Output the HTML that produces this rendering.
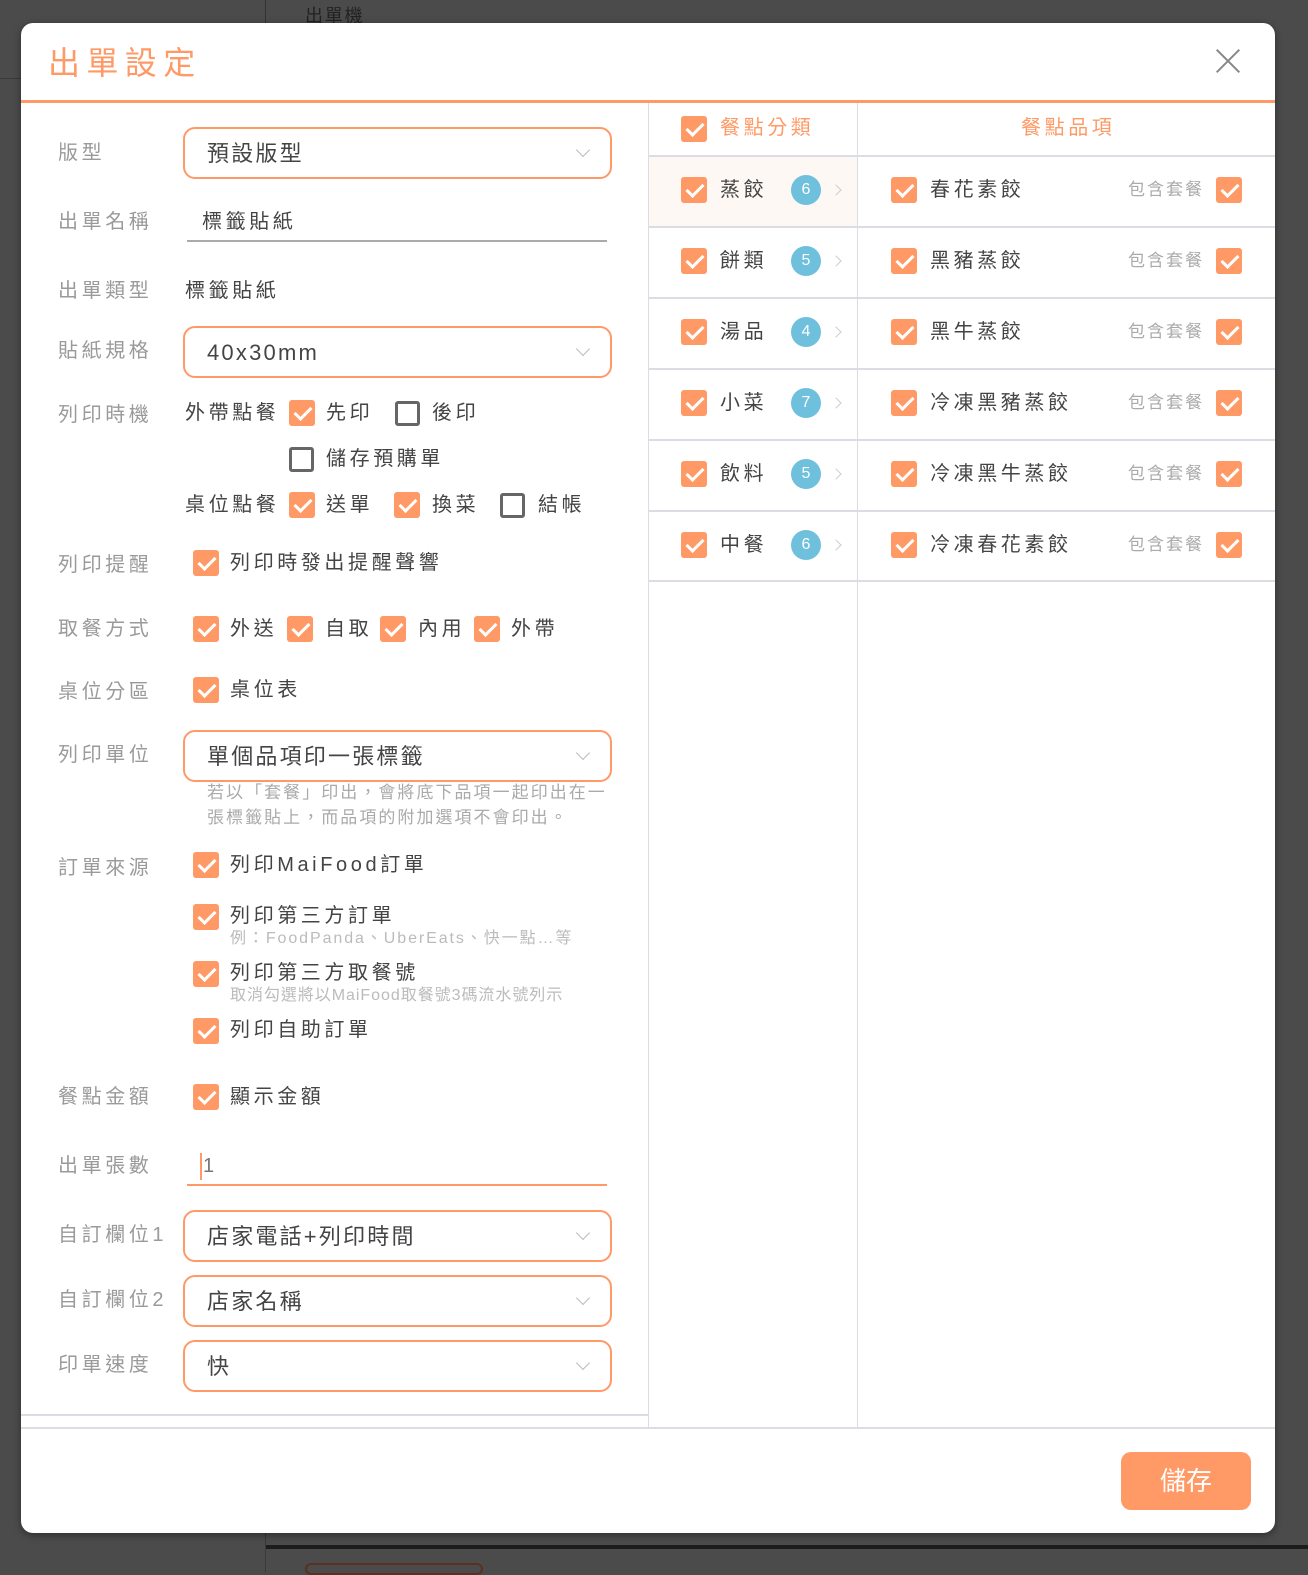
<!DOCTYPE html>
<html><head><meta charset="utf-8">
<style>
*{margin:0;padding:0;box-sizing:border-box}
body{width:1308px;height:1572px;background:#4b4b4b;position:relative;overflow:hidden;font-family:"Liberation Sans","Noto Sans CJK TC",sans-serif}
.a{position:absolute}
.m{position:absolute;left:21px;top:23px;width:1254px;height:1510px;background:#fff;border-radius:12px;box-shadow:0 2px 8px rgba(0,0,0,.4)}
.t{position:absolute;line-height:28px;height:28px;white-space:nowrap;letter-spacing:.18em}
.lb{font-size:20px;color:#9a9a9a}
.v{font-size:20px;color:#444}
.cb{position:absolute;width:26px;height:26px;background:#ff9966;border-radius:3px}
.cb::after{content:"";position:absolute;left:9px;top:3px;width:7px;height:14px;border:solid #fff;border-width:0 3px 3px 0;transform:rotate(45deg)}
.ub{position:absolute;width:25px;height:25px;border:3px solid #666;border-radius:3px}
.dd{position:absolute;left:162px;width:429px;height:52px;border:2px solid #ff9966;border-radius:12px}
.dd span{position:absolute;left:22px;top:11px;font-size:22px;color:#444;letter-spacing:.1em;line-height:28px;white-space:nowrap}
.dd i{position:absolute;right:22px;top:16px;width:10px;height:10px;border:solid #bbb;border-width:0 1.5px 1.5px 0;transform:rotate(45deg)}
.hr{position:absolute;height:1px;background:#dcdce4}
.bd{position:absolute;width:30px;height:30px;border-radius:50%;background:#6fc0dc;color:#fff;font-size:16px;text-align:center;line-height:30px}
.ch{position:absolute;width:8px;height:8px;border:solid #ccc;border-width:1.5px 1.5px 0 0;transform:rotate(45deg)}
.sm{font-size:17px;color:#aaa;letter-spacing:.12em}
</style></head><body>
<div class="a" style="left:265px;top:0;width:1px;height:23px;background:#333"></div>
<div class="t" style="left:305px;top:2px;font-size:18px;color:#222;letter-spacing:.1em">出單機</div>
<div class="a" style="left:0;top:78px;width:21px;height:1px;background:#3a3a3a"></div>
<div class="a" style="left:265px;top:1545px;width:1043px;height:4px;background:#1c1c1c"></div>
<div class="a" style="left:265px;top:1533px;width:1px;height:39px;background:#3a3a3a"></div>
<div class="a" style="left:305px;top:1563px;width:178px;height:12px;border:2px solid #5a3020;border-radius:8px"></div>

<div class="m">
<div class="t" style="left:27px;top:22px;font-size:32px;line-height:36px;height:36px;color:#ff9966;letter-spacing:.2em">出單設定</div>
<div class="a" style="left:1196px;top:26px;width:22px;height:24px">
<div class="a" style="left:10px;top:-4px;width:2px;height:32px;background:#888;transform:rotate(45deg)"></div>
<div class="a" style="left:10px;top:-4px;width:2px;height:32px;background:#888;transform:rotate(-45deg)"></div></div>
<div class="a" style="left:0;top:77px;width:1254px;height:3px;background:#ff9966"></div>

<!-- left -->
<div class="t lb" style="left:37px;top:116px">版型</div>
<div class="dd" style="top:104px"><span>預設版型</span><i></i></div>
<div class="t lb" style="left:37px;top:185px">出單名稱</div>
<div class="t v" style="left:181px;top:185px">標籤貼紙</div>
<div class="a" style="left:166px;top:217px;width:420px;height:2px;background:#aaa"></div>
<div class="t lb" style="left:37px;top:254px">出單類型</div>
<div class="t v" style="left:164px;top:254px">標籤貼紙</div>
<div class="t lb" style="left:37px;top:314px">貼紙規格</div>
<div class="dd" style="top:303px"><span>40x30mm</span><i></i></div>

<div class="t lb" style="left:37px;top:378px">列印時機</div>
<div class="t v" style="left:164px;top:376px">外帶點餐</div>
<div class="cb" style="left:268px;top:377px"></div>
<div class="t v" style="left:305px;top:376px">先印</div>
<div class="ub" style="left:374px;top:378px"></div>
<div class="t v" style="left:411px;top:376px">後印</div>
<div class="ub" style="left:268px;top:424px"></div>
<div class="t v" style="left:305px;top:422px">儲存預購單</div>
<div class="t v" style="left:164px;top:468px">桌位點餐</div>
<div class="cb" style="left:268px;top:469px"></div>
<div class="t v" style="left:305px;top:468px">送單</div>
<div class="cb" style="left:373px;top:469px"></div>
<div class="t v" style="left:411px;top:468px">換菜</div>
<div class="ub" style="left:479px;top:470px"></div>
<div class="t v" style="left:517px;top:468px">結帳</div>

<div class="t lb" style="left:37px;top:528px">列印提醒</div>
<div class="cb" style="left:172px;top:527px"></div>
<div class="t v" style="left:209px;top:526px">列印時發出提醒聲響</div>

<div class="t lb" style="left:37px;top:592px">取餐方式</div>
<div class="cb" style="left:172px;top:593px"></div><div class="t v" style="left:209px;top:592px">外送</div>
<div class="cb" style="left:266px;top:593px"></div><div class="t v" style="left:304px;top:592px">自取</div>
<div class="cb" style="left:359px;top:593px"></div><div class="t v" style="left:397px;top:592px">內用</div>
<div class="cb" style="left:453px;top:593px"></div><div class="t v" style="left:490px;top:592px">外帶</div>

<div class="t lb" style="left:37px;top:655px">桌位分區</div>
<div class="cb" style="left:172px;top:654px"></div><div class="t v" style="left:209px;top:653px">桌位表</div>

<div class="t lb" style="left:37px;top:718px">列印單位</div>
<div class="dd" style="top:707px"><span>單個品項印一張標籤</span><i></i></div>
<div class="t sm" style="left:186px;top:756px">若以「套餐」印出，會將底下品項一起印出在一</div>
<div class="t sm" style="left:186px;top:781px">張標籤貼上，而品項的附加選項不會印出。</div>

<div class="t lb" style="left:37px;top:831px">訂單來源</div>
<div class="cb" style="left:172px;top:829px"></div><div class="t v" style="left:209px;top:828px">列印MaiFood訂單</div>
<div class="cb" style="left:172px;top:881px"></div><div class="t v" style="left:209px;top:879px">列印第三方訂單</div>
<div class="t sm" style="left:209px;top:902px;font-size:16px;color:#bbb">例：FoodPanda、UberEats、快一點…等</div>
<div class="cb" style="left:172px;top:938px"></div><div class="t v" style="left:209px;top:936px">列印第三方取餐號</div>
<div class="t sm" style="left:209px;top:959px;font-size:16px;color:#bbb;letter-spacing:.06em">取消勾選將以MaiFood取餐號3碼流水號列示</div>
<div class="cb" style="left:172px;top:995px"></div><div class="t v" style="left:209px;top:993px">列印自助訂單</div>

<div class="t lb" style="left:37px;top:1060px">餐點金額</div>
<div class="cb" style="left:172px;top:1061px"></div><div class="t v" style="left:209px;top:1060px">顯示金額</div>

<div class="t lb" style="left:37px;top:1129px">出單張數</div>
<div class="a" style="left:179px;top:1130px;width:2px;height:27px;background:#ff9966"></div>
<div class="t v" style="left:182px;top:1129px;color:#777">1</div>
<div class="a" style="left:166px;top:1161px;width:420px;height:2px;background:#ff9966"></div>

<div class="t lb" style="left:37px;top:1198px">自訂欄位1</div>
<div class="dd" style="top:1187px"><span>店家電話+列印時間</span><i></i></div>
<div class="t lb" style="left:37px;top:1263px">自訂欄位2</div>
<div class="dd" style="top:1252px"><span>店家名稱</span><i></i></div>
<div class="t lb" style="left:37px;top:1328px">印單速度</div>
<div class="dd" style="top:1317px"><span>快</span><i></i></div>

<div class="hr" style="left:0;top:1391px;width:627px;height:2px"></div>

<!-- right -->
<div class="a" style="left:627px;top:80px;width:1px;height:1325px;background:#dcdce4"></div>
<div class="a" style="left:836px;top:80px;width:1px;height:1325px;background:#dcdce4"></div>
<div class="a" style="left:628px;top:133px;width:208px;height:70px;background:#fdf8f3"></div>
<div class="cb" style="left:660px;top:93px"></div>
<div class="t" style="left:699px;top:91px;font-size:20px;color:#ff9966">餐點分類</div>
<div class="t" style="left:1000px;top:91px;font-size:20px;color:#ff9966">餐點品項</div>
<div class="hr" style="left:627px;top:132px;width:627px;height:2px"></div>
<div class="hr" style="left:627px;top:203px;width:627px;height:2px"></div>
<div class="hr" style="left:627px;top:274px;width:627px;height:2px"></div>
<div class="hr" style="left:627px;top:345px;width:627px;height:2px"></div>
<div class="hr" style="left:627px;top:416px;width:627px;height:2px"></div>
<div class="hr" style="left:627px;top:487px;width:627px;height:2px"></div>
<div class="hr" style="left:627px;top:557px;width:627px;height:2px"></div>

<div class="cb" style="left:660px;top:154px"></div><div class="t v" style="left:699px;top:153px">蒸餃</div><div class="bd" style="left:770px;top:152px">6</div><div class="ch" style="left:811px;top:163px"></div>
<div class="cb" style="left:870px;top:154px"></div><div class="t v" style="left:909px;top:153px">春花素餃</div><div class="t sm" style="left:1107px;top:153px">包含套餐</div><div class="cb" style="left:1195px;top:154px"></div>

<div class="cb" style="left:660px;top:225px"></div><div class="t v" style="left:699px;top:224px">餅類</div><div class="bd" style="left:770px;top:223px">5</div><div class="ch" style="left:811px;top:234px"></div>
<div class="cb" style="left:870px;top:225px"></div><div class="t v" style="left:909px;top:224px">黑豬蒸餃</div><div class="t sm" style="left:1107px;top:224px">包含套餐</div><div class="cb" style="left:1195px;top:225px"></div>

<div class="cb" style="left:660px;top:296px"></div><div class="t v" style="left:699px;top:295px">湯品</div><div class="bd" style="left:770px;top:294px">4</div><div class="ch" style="left:811px;top:305px"></div>
<div class="cb" style="left:870px;top:296px"></div><div class="t v" style="left:909px;top:295px">黑牛蒸餃</div><div class="t sm" style="left:1107px;top:295px">包含套餐</div><div class="cb" style="left:1195px;top:296px"></div>

<div class="cb" style="left:660px;top:367px"></div><div class="t v" style="left:699px;top:366px">小菜</div><div class="bd" style="left:770px;top:365px">7</div><div class="ch" style="left:811px;top:376px"></div>
<div class="cb" style="left:870px;top:367px"></div><div class="t v" style="left:909px;top:366px">冷凍黑豬蒸餃</div><div class="t sm" style="left:1107px;top:366px">包含套餐</div><div class="cb" style="left:1195px;top:367px"></div>

<div class="cb" style="left:660px;top:438px"></div><div class="t v" style="left:699px;top:437px">飲料</div><div class="bd" style="left:770px;top:436px">5</div><div class="ch" style="left:811px;top:447px"></div>
<div class="cb" style="left:870px;top:438px"></div><div class="t v" style="left:909px;top:437px">冷凍黑牛蒸餃</div><div class="t sm" style="left:1107px;top:437px">包含套餐</div><div class="cb" style="left:1195px;top:438px"></div>

<div class="cb" style="left:660px;top:509px"></div><div class="t v" style="left:699px;top:508px">中餐</div><div class="bd" style="left:770px;top:507px">6</div><div class="ch" style="left:811px;top:518px"></div>
<div class="cb" style="left:870px;top:509px"></div><div class="t v" style="left:909px;top:508px">冷凍春花素餃</div><div class="t sm" style="left:1107px;top:508px">包含套餐</div><div class="cb" style="left:1195px;top:509px"></div>

<!-- footer -->
<div class="hr" style="left:0;top:1404px;width:1254px;height:2px"></div>
<div class="a" style="left:1100px;top:1429px;width:130px;height:58px;background:#ff9966;border-radius:10px;color:#fff;font-size:26px;text-align:center;line-height:58px">儲存</div>
</div>
</body></html>
